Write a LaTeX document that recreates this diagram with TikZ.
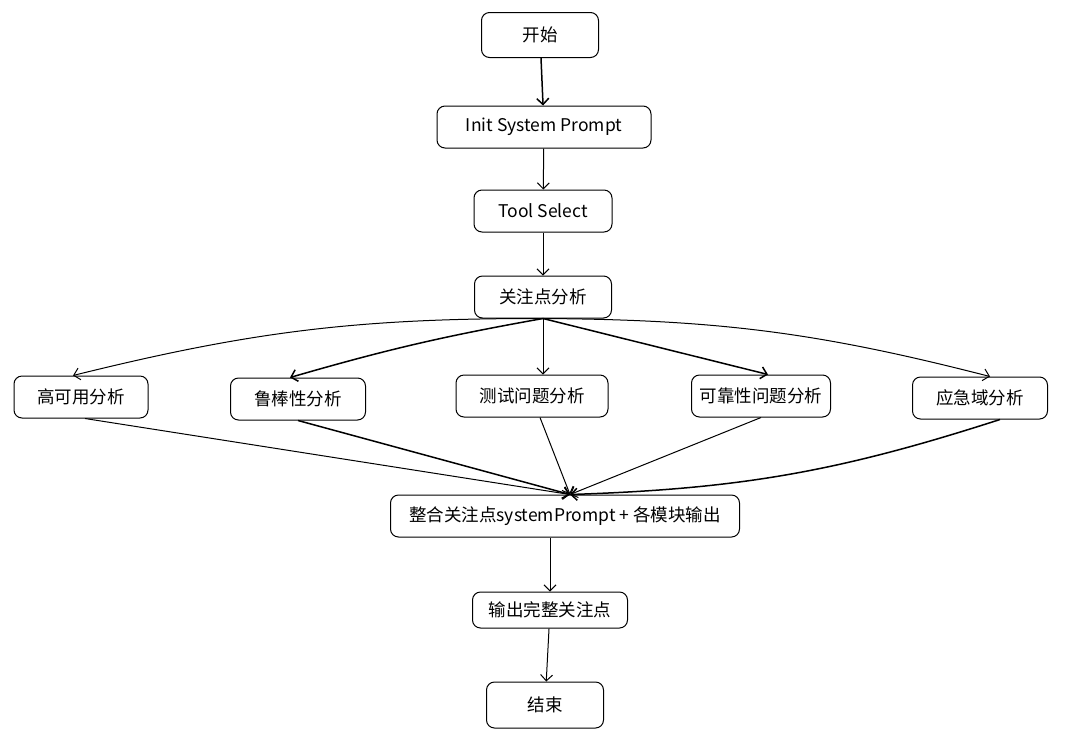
\documentclass[tikz,border=0pt]{standalone}
\usepackage{fontspec}
\setmainfont{Noto Sans CJK SC}
\usetikzlibrary{arrows.meta}
\begin{document}
\begin{tikzpicture}[x=1pt,y=-1pt,
    box/.style={draw,line width=1pt,rounded corners=8pt,fill=white,
        minimum height=42pt,inner sep=3pt,font=\fontsize{17.5}{20}\selectfont},
    flow/.style={line width=1pt,-{Straight Barb[length=6pt,width=12pt]}},
    heavy/.style={flow,line width=1.5pt}]

    \useasboundingbox (0,0) rectangle (1080,740);

    %main chain:
    \node[box,minimum width=117pt,minimum height=45pt] (start) at (540,35) {开始};
    \node[box,minimum width=214pt] (init) at (544,127) {Init System Prompt};
    \node[box,minimum width=138pt] (tool) at (543,211) {Tool Select};
    \node[box,minimum width=137pt] (focus) at (543,297) {关注点分析};

    %analysis boxes:
    \node[box,minimum width=134pt] (ha) at (81,397) {高可用分析};
    \node[box,minimum width=135pt] (robust) at (298,399) {鲁棒性分析};
    \node[box,minimum width=152pt] (test) at (532,396) {测试问题分析};
    \node[box,minimum width=139pt] (reliab) at (761,396) {可靠性问题分析};
    \node[box,minimum width=135pt] (emerg) at (980,398) {应急域分析};

    %tail:
    \node[box,minimum width=349pt] (merge) at (565,516) {整合关注点systemPrompt + 各模块输出};
    \node[box,minimum width=155pt,minimum height=36pt] (output) at (550,610) {输出完整关注点};
    \node[box,minimum width=117pt,minimum height=46pt] (end) at (545,705) {结束};

    %arrows down the chain:
    \draw[heavy] (start) -- (init);
    \draw[flow] (init) -- (tool);
    \draw[flow] (tool) -- (focus);

    %fan out:
    \draw[flow] (focus.south) to[bend right=7] ([xshift=-8pt]ha.north);
    \draw[heavy] (focus.south) to[bend right=3] ([xshift=-8pt]robust.north);
    \draw[flow] (focus.south) -- (focus.south |- test.north);
    \draw[heavy] (focus.south) -- ([xshift=7pt]reliab.north);
    \draw[flow] (focus.south) to[bend left=7] ([xshift=10pt]emerg.north);

    %fan in:
    \coordinate (in) at ([xshift=5pt]merge.north);
    \draw[flow] ([xshift=4pt]ha.south) -- (in);
    \draw[heavy] (robust.south) -- (in);
    \draw[flow] ([xshift=8pt]test.south) -- (in);
    \draw[flow] (reliab.south) -- (in);
    \draw[heavy] ([xshift=20pt]emerg.south) to[bend left=8] (in);

    %arrows to the end:
    \draw[flow] ([xshift=-15pt]merge.south) -- (output);
    \draw[flow] (output) -- (end);

\end{tikzpicture}
\end{document}
